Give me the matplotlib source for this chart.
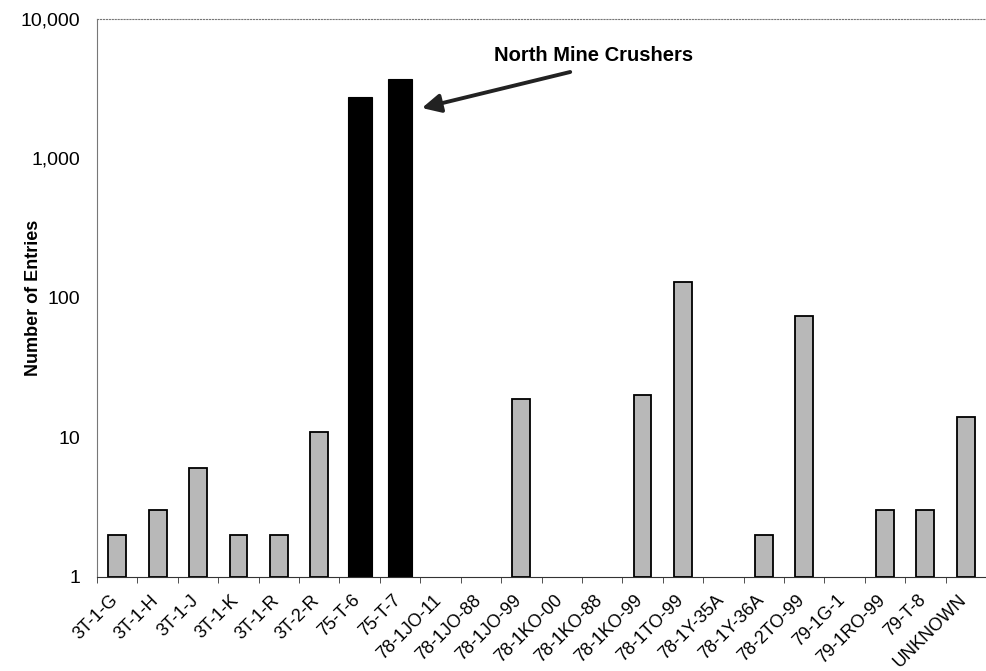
import numpy as np
import matplotlib.pyplot as plt
import matplotlib.transforms as mtransforms

plt.rcParams['font.family'] = ['Liberation Sans', 'DejaVu Sans']

units = ['3T-1-G', '3T-1-H', '3T-1-J', '3T-1-K', '3T-1-R', '3T-2-R', '75-T-6', '75-T-7',
         '78-1JO-11', '78-1JO-88', '78-1JO-99', '78-1KO-00', '78-1KO-88', '78-1KO-99',
         '78-1TO-99', '78-1Y-35A', '78-1Y-36A', '78-2TO-99', '79-1G-1', '79-1RO-99',
         '79-T-8', 'UNKNOWN']
entries = [2, 3, 6, 2, 2, 11, 2750, 3700,
           1, 1, 19, 1, 1, 20,
           130, 1, 2, 74, 1, 3,
           3, 14]
crushers = ['75-T-6', '75-T-7']

fig = plt.figure(figsize=(9.86, 6.71), dpi=100)
ax = fig.add_axes([0.0984, 0.1401, 0.9016, 0.8316])

x = np.arange(len(units))
for i, (u, v) in enumerate(zip(units, entries)):
    if v <= 1:
        continue
    if u in crushers:
        ax.bar(i, v - 1, bottom=1, width=0.6, color='black', edgecolor='black', linewidth=0.8)
    else:
        ax.bar(i, v - 1, bottom=1, width=0.44, color='#b8b8b8', edgecolor='black', linewidth=1.3)

ax.set_yscale('log')
ax.set_ylim(1, 10000)
ax.set_xlim(-0.5, len(units) - 0.5)
ax.set_yticks([1, 10, 100, 1000, 10000])
ax.set_yticklabels(['1', '10', '100', '1,000', '10,000'], fontsize=14)
ax.yaxis.set_minor_locator(plt.NullLocator())
ax.tick_params(axis='y', length=0, pad=12)

ax.set_xticks(x)
ax.set_xticklabels(units, rotation=45, ha='right', rotation_mode='anchor', fontsize=13)
ax.set_xticks(np.arange(len(units) + 1) - 0.5, minor=True)
ax.tick_params(axis='x', which='major', length=0, pad=7)
ax.tick_params(axis='x', which='minor', length=4, direction='out', color='#333333')
shift = mtransforms.ScaledTranslation(-8 / 100, -5 / 100, fig.dpi_scale_trans)
for lbl in ax.get_xticklabels():
    lbl.set_transform(lbl.get_transform() + shift)

ax.set_ylabel('Number of Entries', fontsize=13, fontweight='bold')
ax.yaxis.set_label_coords(-0.062, 0.5)

ax.spines['top'].set_linestyle(':')
ax.spines['top'].set_color('#777777')
ax.spines['left'].set_color('#777777')
ax.spines['right'].set_visible(False)
ax.spines['bottom'].set_color('#333333')

ax.text(11.78, 5430, 'North Mine Crushers', fontsize=14.5, fontweight='bold',
        ha='center', va='center')
ax.annotate('', xy=(7.54, 2300), xytext=(11.21, 4170),
            arrowprops=dict(arrowstyle='-|>', color='#222222', lw=2.8,
                            mutation_scale=28, shrinkA=0, shrinkB=0))

fig.savefig('out.png', dpi=100)
